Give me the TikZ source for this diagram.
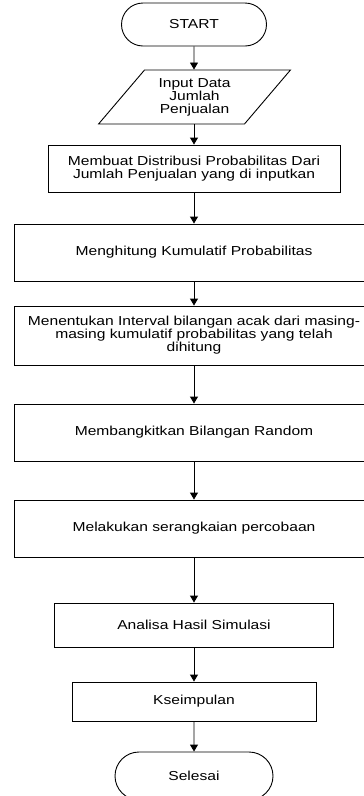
\documentclass[tikz,border=0pt]{standalone}
\usepackage{fontspec}
\setmainfont[FakeStretch=1.2]{Liberation Sans}
\usetikzlibrary{shapes,shapes.geometric,shapes.misc,arrows.meta,positioning}

\begin{document}
\begin{tikzpicture}[x=1pt,y=1pt,
  font=\fontsize{13}{13}\selectfont,
  box/.style={draw, line width=.9pt, align=center, inner sep=0pt},
  term/.style={draw, line width=.9pt, rounded rectangle, inner sep=0pt},
  io/.style={draw, line width=.9pt, trapezium, trapezium left angle=50,
    trapezium right angle=130, trapezium stretches=true, align=center, inner sep=2pt},
  arr/.style={-{Triangle[width=8pt,length=7pt]}, line width=.9pt}]
\useasboundingbox (0,0) rectangle (364,-796);
\node[term, minimum width=145pt, minimum height=43pt] (start) at (194,-24.5) {START};
\node[io, minimum width=192pt, minimum height=54pt] (input) at (194.5,-97)
  {Input Data\\Jumlah\\Penjualan};
\node[box, minimum width=292pt, minimum height=47pt] (b1) at (194,-168.5)
  {Membuat Distribusi Probabilitas Dari\\Jumlah Penjualan yang di inputkan};
\node[box, minimum width=358.6pt, minimum height=57pt] (b2) at (194,-252.5)
  {Menghitung Kumulatif Probabilitas};
\node[box, minimum width=358.6pt, minimum height=59pt] (b3) at (194,-335.5)
  {Menentukan Interval bilangan acak dari masing-\\masing kumulatif probabilitas yang telah\\dihitung};
\node[box, minimum width=358.6pt, minimum height=57pt] (b4) at (194,-432.5)
  {Membangkitkan Bilangan Random};
\node[box, minimum width=358.6pt, minimum height=57pt] (b5) at (194,-528.5)
  {Melakukan serangkaian percobaan};
\node[box, minimum width=279pt, minimum height=44pt] (b6) at (194,-625)
  {Analisa Hasil Simulasi};
\node[box, minimum width=244pt, minimum height=39pt] (b7) at (194,-701.5)
  {Kseimpulan};
\node[term, minimum width=158pt, minimum height=48pt] (stop) at (194,-776) {Selesai};

\draw[arr] (start) -- (start |- input.north);
\draw[arr] (start |- input.south) -- (b1);
\foreach \a/\b in {b1/b2,b2/b3,b3/b4,b4/b5,b5/b6,b6/b7,b7/stop}
  \draw[arr] (\a) -- (\b);
\end{tikzpicture}
\end{document}
